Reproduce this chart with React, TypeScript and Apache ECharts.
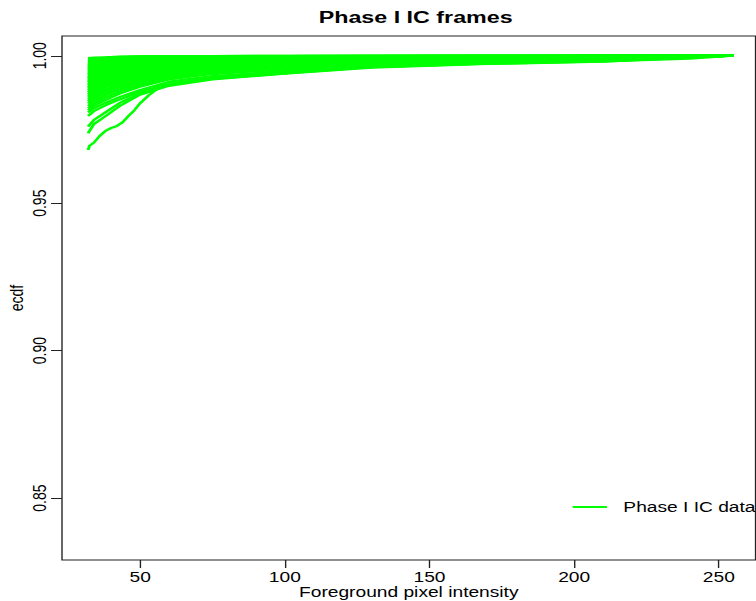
import React, { useEffect, useRef } from "react";
import * as echarts from "echarts";

const chartTitle = "Phase I IC frames";
const xAxisTitle = "Foreground pixel intensity";
const yAxisTitle = "ecdf";
const legendLabel = "Phase I IC data";
const xTickValues = [50, 100, 150, 200, 250];
const yTickValues = [0.85, 0.9, 0.95, 1.0];

// intensity values at which each frame's ecdf was read
const intensityGrid = [32, 34, 38, 43, 50, 60, 75, 100, 130, 170, 210, 255];

// ecdf value of each Phase I frame at the intensities above
const frameEcdf: number[][] = [
  [0.9737, 0.9768, 0.9795, 0.983, 0.9868, 0.9898, 0.992, 0.9939, 0.996, 0.9972, 0.998, 1.0],
  [0.976, 0.9782, 0.9808, 0.984, 0.9873, 0.9901, 0.9922, 0.9941, 0.9962, 0.9974, 0.9982, 1.0],
  [0.9796, 0.9812, 0.9832, 0.9852, 0.9878, 0.9906, 0.9926, 0.9944, 0.9964, 0.9976, 0.9984, 1.0],
  [0.9808, 0.9822, 0.984, 0.986, 0.9884, 0.9912, 0.9931, 0.9948, 0.9966, 0.9977, 0.9985, 1.0],
  [0.9815, 0.983, 0.985, 0.9872, 0.9895, 0.992, 0.9938, 0.9954, 0.997, 0.998, 0.9987, 1.0],
  [0.9822, 0.9838, 0.9858, 0.9879, 0.9901, 0.9923, 0.994, 0.9955, 0.997, 0.998, 0.9987, 1.0],
  [0.983, 0.9845, 0.9866, 0.9886, 0.9906, 0.9926, 0.9942, 0.9956, 0.9971, 0.9981, 0.9988, 1.0],
  [0.9838, 0.9853, 0.9873, 0.9892, 0.9911, 0.993, 0.9946, 0.996, 0.9973, 0.9982, 0.9989, 1.0],
  [0.9845, 0.986, 0.988, 0.9898, 0.9916, 0.9934, 0.995, 0.9964, 0.9976, 0.9984, 0.999, 1.0],
  [0.9851, 0.9867, 0.9886, 0.9904, 0.9921, 0.9938, 0.9953, 0.9967, 0.9978, 0.9986, 0.9991, 1.0],
  [0.9858, 0.9874, 0.9893, 0.991, 0.9926, 0.9942, 0.9957, 0.997, 0.998, 0.9987, 0.9992, 1.0],
  [0.9864, 0.988, 0.9898, 0.9915, 0.993, 0.9946, 0.996, 0.9972, 0.9982, 0.9988, 0.9992, 1.0],
  [0.987, 0.9886, 0.9904, 0.992, 0.9935, 0.995, 0.9963, 0.9974, 0.9983, 0.9989, 0.9993, 1.0],
  [0.9876, 0.9892, 0.991, 0.9925, 0.994, 0.9953, 0.9966, 0.9976, 0.9985, 0.999, 0.9994, 1.0],
  [0.9882, 0.9898, 0.9915, 0.993, 0.9944, 0.9957, 0.9968, 0.9978, 0.9986, 0.9991, 0.9994, 1.0],
  [0.9888, 0.9904, 0.992, 0.9935, 0.9948, 0.996, 0.9971, 0.998, 0.9987, 0.9992, 0.9995, 1.0],
  [0.9893, 0.9909, 0.9925, 0.9939, 0.9952, 0.9963, 0.9973, 0.9982, 0.9988, 0.9992, 0.9995, 1.0],
  [0.9899, 0.9914, 0.993, 0.9943, 0.9956, 0.9966, 0.9976, 0.9984, 0.9989, 0.9993, 0.9996, 1.0],
  [0.9904, 0.9919, 0.9934, 0.9947, 0.9959, 0.9969, 0.9978, 0.9985, 0.999, 0.9994, 0.9996, 1.0],
  [0.9909, 0.9924, 0.9939, 0.9951, 0.9962, 0.9972, 0.998, 0.9987, 0.9991, 0.9995, 0.9997, 1.0],
  [0.9914, 0.9929, 0.9943, 0.9955, 0.9965, 0.9974, 0.9982, 0.9988, 0.9992, 0.9995, 0.9997, 1.0],
  [0.9919, 0.9934, 0.9947, 0.9959, 0.9968, 0.9977, 0.9984, 0.9989, 0.9993, 0.9996, 0.9997, 1.0],
  [0.9924, 0.9938, 0.9951, 0.9962, 0.9971, 0.9979, 0.9985, 0.999, 0.9994, 0.9996, 0.9998, 1.0],
  [0.9928, 0.9942, 0.9955, 0.9965, 0.9974, 0.9981, 0.9987, 0.9991, 0.9995, 0.9997, 0.9998, 1.0],
  [0.9933, 0.9946, 0.9958, 0.9968, 0.9976, 0.9983, 0.9988, 0.9992, 0.9995, 0.9997, 0.9998, 1.0],
  [0.9938, 0.995, 0.9962, 0.9971, 0.9978, 0.9985, 0.9989, 0.9993, 0.9996, 0.9998, 0.9999, 1.0],
  [0.9942, 0.9954, 0.9965, 0.9973, 0.998, 0.9986, 0.999, 0.9994, 0.9996, 0.9998, 0.9999, 1.0],
  [0.9946, 0.9958, 0.9968, 0.9976, 0.9982, 0.9988, 0.9991, 0.9994, 0.9997, 0.9998, 0.9999, 1.0],
  [0.995, 0.9961, 0.997, 0.9978, 0.9984, 0.9989, 0.9992, 0.9995, 0.9997, 0.9998, 0.9999, 1.0],
  [0.9954, 0.9964, 0.9973, 0.998, 0.9986, 0.999, 0.9993, 0.9995, 0.9997, 0.9999, 0.9999, 1.0],
  [0.9957, 0.9967, 0.9975, 0.9982, 0.9987, 0.9991, 0.9994, 0.9996, 0.9998, 0.9999, 0.9999, 1.0],
  [0.9961, 0.997, 0.9977, 0.9984, 0.9988, 0.9992, 0.9994, 0.9996, 0.9998, 0.9999, 1.0, 1.0],
  [0.9964, 0.9972, 0.9979, 0.9985, 0.9989, 0.9993, 0.9995, 0.9997, 0.9998, 0.9999, 1.0, 1.0],
  [0.9967, 0.9975, 0.9981, 0.9987, 0.999, 0.9993, 0.9995, 0.9997, 0.9998, 0.9999, 1.0, 1.0],
  [0.997, 0.9977, 0.9983, 0.9988, 0.9991, 0.9994, 0.9996, 0.9998, 0.9999, 0.9999, 1.0, 1.0],
  [0.9973, 0.9979, 0.9985, 0.9989, 0.9992, 0.9994, 0.9996, 0.9998, 0.9999, 1.0, 1.0, 1.0],
  [0.9976, 0.9981, 0.9986, 0.999, 0.9993, 0.9995, 0.9997, 0.9998, 0.9999, 1.0, 1.0, 1.0],
  [0.9979, 0.9983, 0.9988, 0.9991, 0.9993, 0.9995, 0.9997, 0.9998, 0.9999, 1.0, 1.0, 1.0],
  [0.9981, 0.9985, 0.9989, 0.9992, 0.9994, 0.9996, 0.9998, 0.9999, 0.9999, 1.0, 1.0, 1.0],
  [0.9985, 0.9988, 0.9991, 0.9994, 0.9996, 0.9997, 0.9998, 0.9999, 1.0, 1.0, 1.0, 1.0],
  [0.9987, 0.999, 0.9992, 0.9994, 0.9996, 0.9997, 0.9998, 0.9999, 1.0, 1.0, 1.0, 1.0],
  [0.9989, 0.9991, 0.9993, 0.9995, 0.9997, 0.9998, 0.9999, 0.9999, 1.0, 1.0, 1.0, 1.0],
  [0.999, 0.9992, 0.9994, 0.9996, 0.9997, 0.9998, 0.9999, 1.0, 1.0, 1.0, 1.0, 1.0],
  [0.9992, 0.9994, 0.9995, 0.9997, 0.9998, 0.9999, 0.9999, 1.0, 1.0, 1.0, 1.0, 1.0],
];

// the one frame that sits clearly below the others
const lowestFrameX = [32, 32.5, 34, 36, 38, 40, 42, 44, 46, 48, 50, 53, 56, 60, 75, 100, 130, 170, 210, 240, 255];
const lowestFrameY = [0.968, 0.9695, 0.9705, 0.9728, 0.9745, 0.9755, 0.9762, 0.9775, 0.9796, 0.9815, 0.9839, 0.9866, 0.9888, 0.9903, 0.9922, 0.994, 0.9961, 0.9973, 0.9981, 0.999, 1.0];

const STRETCH = 1.37;
const INNER_W = 552;
const H = 601;
const FONT = "'Liberation Sans', Arial, Helvetica, sans-serif";
const GREEN = "#00ff00";

export default function App() {
  const ref = useRef<HTMLDivElement>(null);
  useEffect(() => {
    if (!ref.current) return;
    const chart = echarts.init(ref.current, undefined, { renderer: "svg" });
    const lineBase = {
      type: "line" as const,
      name: legendLabel,
      showSymbol: false,
      symbol: "none",
      silent: true,
      emphasis: { disabled: true },
      lineStyle: { color: GREEN, width: 2.2 },
      itemStyle: { color: GREEN },
    };
    const series: any[] = frameEcdf.map((ys) => ({
      ...lineBase,
      data: intensityGrid.map((x, j) => [x, ys[j]]),
    }));
    series.push({
      ...lineBase,
      data: lowestFrameX.map((x, j) => [x, lowestFrameY[j]]),
    });
    chart.setOption({
      animation: false,
      backgroundColor: "#ffffff",
      textStyle: { fontFamily: FONT },
      title: {
        text: chartTitle,
        left: 298.4,
        top: 4,
        textAlign: "center",
        textStyle: { fontFamily: FONT, fontSize: 17, fontWeight: "bold", color: "#000" },
      },
      legend: {
        data: [{ name: legendLabel, icon: "rect" }],
        left: 413,
        top: 495,
        itemWidth: 25,
        itemHeight: 2,
        selectedMode: false,
        textStyle: { fontFamily: FONT, fontSize: 14, color: "#000", padding: [0, 0, 0, 7] },
      },
      grid: {
        left: 45.26,
        right: 0.5,
        top: 36,
        bottom: 41,
        show: true,
        borderColor: "#222",
        borderWidth: 1,
        containLabel: false,
        outerBoundsMode: "none",
      },
      xAxis: {
        type: "value",
        min: 23.0,
        max: 262.7,
        name: xAxisTitle,
        nameLocation: "middle",
        nameGap: 25,
        nameMoveOverlap: false,
        nameTextStyle: { fontFamily: FONT, fontSize: 14, color: "#000" },
        axisLine: { show: false },
        splitLine: { show: false },
        axisTick: { show: true, length: 8, customValues: xTickValues, lineStyle: { color: "#222", width: 1 } },
        axisLabel: { customValues: xTickValues, margin: 10, fontFamily: FONT, fontSize: 14, color: "#000" },
      },
      yAxis: {
        type: "value",
        min: 0.829,
        max: 1.0067,
        name: yAxisTitle,
        nameLocation: "middle",
        nameRotate: 90,
        nameGap: 26,
        nameMoveOverlap: false,
        nameTextStyle: { fontFamily: FONT, fontSize: 14, color: "#000" },
        axisLine: { show: false },
        splitLine: { show: false },
        axisTick: { show: true, length: 8, customValues: yTickValues, lineStyle: { color: "#222", width: 1 } },
        axisLabel: {
          customValues: yTickValues,
          rotate: 90,
          margin: 9,
          fontFamily: FONT,
          fontSize: 14,
          color: "#000",
          formatter: (v: number) => v.toFixed(2),
        },
      },
      series,
    });
    return () => chart.dispose();
  }, []);
  return (
    <div
      ref={ref}
      style={{
        position: "fixed",
        left: 0,
        top: 0,
        width: INNER_W,
        height: H,
        transform: `scaleX(${STRETCH})`,
        transformOrigin: "0 0",
      }}
    />
  );
}
